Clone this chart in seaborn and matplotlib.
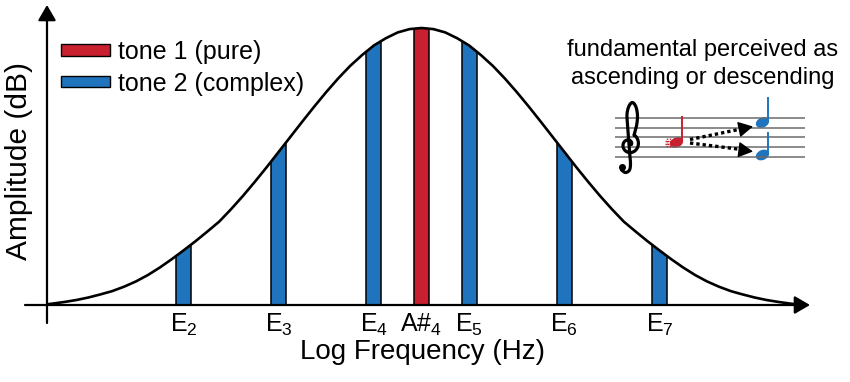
import matplotlib
matplotlib.use("Agg")
import matplotlib.pyplot as plt
from matplotlib.patches import Patch, Polygon, Ellipse, Circle
import seaborn as sns
import numpy as np

# ---------------- data ----------------
note_labels = ["E$_2$", "E$_3$", "E$_4$", "A#$_4$", "E$_5$", "E$_6$", "E$_7$"]
note_octave = [2.0, 3.0, 4.0, 4.5, 5.0, 6.0, 7.0]          # log frequency (octaves)
note_amp = [0.23, 0.60, 0.95, 1.0, 0.95, 0.60, 0.23]       # bar heights (clipped to envelope)
note_tone = ["tone 2 (complex)", "tone 2 (complex)", "tone 2 (complex)", "tone 1 (pure)",
             "tone 2 (complex)", "tone 2 (complex)", "tone 2 (complex)"]

# spectral envelope, eighth-octave steps
curve_octave = [0.5, 0.625, 0.75, 0.875, 1.0, 1.125, 1.25, 1.375, 1.5, 1.625, 1.75, 1.875,
                2.0, 2.125, 2.25, 2.375, 2.5, 2.625, 2.75, 2.875, 3.0, 3.125, 3.25, 3.375,
                3.5, 3.625, 3.75, 3.875, 4.0, 4.125, 4.25, 4.375, 4.5, 4.625, 4.75, 4.875,
                5.0, 5.125, 5.25, 5.375, 5.5, 5.625, 5.75, 5.875, 6.0, 6.125, 6.25, 6.375,
                6.5, 6.625, 6.75, 6.875, 7.0, 7.125, 7.25, 7.375, 7.5, 7.625, 7.75, 7.875,
                8.0, 8.125, 8.25, 8.375, 8.5]
curve_amp = [0.0, 0.005, 0.011, 0.018, 0.027, 0.038, 0.050, 0.066, 0.085, 0.108, 0.135,
             0.165, 0.197, 0.230, 0.265, 0.301, 0.346, 0.394, 0.445, 0.498, 0.553, 0.608,
             0.663, 0.717, 0.769, 0.818, 0.863, 0.902, 0.937, 0.963, 0.984, 0.996, 1.0,
             0.996, 0.984, 0.963, 0.937, 0.902, 0.863, 0.818, 0.769, 0.717, 0.663, 0.608,
             0.553, 0.498, 0.445, 0.394, 0.346, 0.301, 0.265, 0.230, 0.197, 0.165, 0.135,
             0.108, 0.085, 0.066, 0.050, 0.038, 0.027, 0.018, 0.011, 0.005, 0.0]

RED = "#c8202f"
BLUE = "#1f74bd"
palette = {"tone 1 (pure)": RED, "tone 2 (complex)": BLUE}

# ---------------- style ----------------
sns.set_style("white")
plt.rcParams["font.family"] = ["Liberation Sans", "DejaVu Sans"]
plt.rcParams["mathtext.fontset"] = "custom"
plt.rcParams["mathtext.rm"] = "Liberation Sans"
plt.rcParams["mathtext.it"] = "Liberation Sans:italic"
plt.rcParams["mathtext.bf"] = "Liberation Sans:bold"
for k in ("text.color", "axes.labelcolor", "xtick.color", "ytick.color"):
    plt.rcParams[k] = "black"

W, H = 850, 382
fig = plt.figure(figsize=(W / 100, H / 100), dpi=100)

# main axes: left at y-axis (x=47px), bottom at baseline (y=305px), top at arrow tip
ax_l, ax_r, ax_b, ax_t = 47, 810, 305, 5
ax = fig.add_axes([ax_l / W, (H - ax_b) / H, (ax_r - ax_l) / W, (ax_b - ax_t) / H])

px_per_oct = 95.2
e2_px = 183.5
x0 = 2.0 - (e2_px - ax_l) / px_per_oct
x1 = 2.0 + (ax_r - e2_px) / px_per_oct
y1 = (ax_b - ax_t) / 277.0

sns.barplot(x=note_octave, y=note_amp, hue=note_tone, palette=palette, native_scale=True,
            dodge=False, width=0.316, saturation=1, edgecolor="black", linewidth=1.1,
            errorbar=None, legend=False, ax=ax, zorder=2)
bars = list(ax.patches)

sns.lineplot(x=curve_octave, y=curve_amp, color="black", linewidth=1.9, ax=ax, zorder=3)

# clip bars to the area under the envelope
verts = list(zip(curve_octave, curve_amp)) + [(curve_octave[-1], 0), (curve_octave[0], 0)]
clip_poly = Polygon(verts, closed=True, transform=ax.transData)
for b in bars:
    b.set_clip_path(clip_poly)

ax.set_xlim(x0, x1)
ax.set_ylim(0, y1)
for s in ax.spines.values():
    s.set_visible(False)
ax.set_yticks([])
ax.set_xticks(note_octave)
ax.set_xticklabels(note_labels, fontsize=18)
ax.tick_params(axis="x", length=0, pad=5)
ax.set_xlabel("Log Frequency (Hz)", fontsize=20)
ax.xaxis.set_label_coords((422 - ax_l) / (ax_r - ax_l), -(339 - ax_b) / (ax_b - ax_t))
ax.set_ylabel("Amplitude (dB)", fontsize=21.5)
ax.yaxis.set_label_coords(-(ax_l - 33) / (ax_r - ax_l), (ax_b - 161) / (ax_b - ax_t))
ax.set_facecolor("none")

# axis arrows
arrow_kw = dict(arrowstyle="-|>,head_length=0.55,head_width=0.32", color="black", lw=1.6,
                mutation_scale=17, shrinkA=0, shrinkB=0)
ax.annotate("", xy=(1, 0), xytext=(-(ax_l - 25) / (ax_r - ax_l), 0), xycoords="axes fraction",
            arrowprops=arrow_kw, annotation_clip=False, zorder=5)
ax.annotate("", xy=(0, 1), xytext=(0, -(323 - ax_b) / (ax_b - ax_t)), xycoords="axes fraction",
            arrowprops=arrow_kw, annotation_clip=False, zorder=5)

# legend
handles = [Patch(facecolor=RED, edgecolor="black", linewidth=1.0, label="tone 1 (pure)"),
           Patch(facecolor=BLUE, edgecolor="black", linewidth=1.0, label="tone 2 (complex)")]
fig.legend(handles=handles, loc="upper left", bbox_to_anchor=(61 / W, 1 - 40 / H),
           frameon=False, borderpad=0, borderaxespad=0, handlelength=1.96,
           handleheight=0.32, handletextpad=0.32, labelspacing=0.3, fontsize=18)

# annotation text
fig.text(703 / W, 1 - 50 / H, "fundamental perceived as", ha="center", va="center", fontsize=17)
fig.text(703 / W, 1 - 78 / H, "ascending or descending", ha="center", va="center", fontsize=17)

# ---------------- staff inset (pixel coordinates) ----------------
ins = fig.add_axes([600 / W, (H - 180) / H, 240 / W, 90 / H])
ins.set_xlim(600, 840)
ins.set_ylim(180, 90)
ins.axis("off")
ins.hlines([118, 127.5, 137, 147, 156.5], 615, 805, color="#6b6b6b", lw=1.1)


def smooth_path(pts, n=12):
    """Catmull-Rom smoothing of a decorative outline."""
    p = np.asarray(pts, float)
    p = np.vstack([p[0], p, p[-1]])
    out = []
    for i in range(1, len(p) - 2):
        p0, p1, p2, p3 = p[i - 1], p[i], p[i + 1], p[i + 2]
        for t in np.linspace(0, 1, n, endpoint=False):
            t2, t3 = t * t, t * t * t
            out.append(0.5 * ((2 * p1) + (-p0 + p2) * t + (2 * p0 - 5 * p1 + 4 * p2 - p3) * t2
                              + (-p0 + 3 * p1 - 3 * p2 + p3) * t3))
    out.append(p[-2])
    return np.array(out)


# treble clef (no installed font has U+1D11E, so it is drawn as a shape)
th = np.linspace(0, 2 * np.pi + np.pi / 3, 40)
rr = 2.5 + 8.0 * th / th[-1]
spiral = np.column_stack([629 + rr * np.cos(th), 144.5 - 1.05 * rr * np.sin(th)])
upper = smooth_path([(634, 135.3), (636.5, 126), (637.5, 116), (636, 107), (632.5, 102.5),
                     (629, 106), (627, 114), (627.5, 124), (628.5, 138), (629.5, 152),
                     (630.5, 163), (629.5, 170), (625.5, 172.5), (621.5, 170)])
clef = np.vstack([spiral, upper])
ins.plot(clef[:, 0], clef[:, 1], color="black", lw=2.3, solid_capstyle="round",
         solid_joinstyle="round")
ins.add_patch(Circle((622.5, 167.5), 2.8, color="black"))

# red note + dotted sharp
ins.add_patch(Ellipse((676.5, 142.5), 12.5, 8.5, angle=-25, color=RED))
ins.plot([682, 682], [141, 116], color=RED, lw=1.4, solid_capstyle="butt")
for xv in (666.5, 669.5):
    ins.plot([xv, xv], [138, 147], color=RED, lw=1.0, ls=(0, (1, 0.8)))
for yv in (141, 144):
    ins.plot([665, 671.5], [yv, yv], color=RED, lw=1.0, ls=(0, (1, 0.8)))
# blue notes
for cy, top in ((122.5, 97), (155, 132)):
    ins.add_patch(Ellipse((762.5, cy), 12.5, 8.5, angle=-25, color=BLUE))
    ins.plot([767.8, 767.8], [cy - 1.5, top], color=BLUE, lw=1.4, solid_capstyle="butt")
# dotted arrows
dot_kw = dict(color="black", lw=2.4, ls=(0, (1, 0.9)))
ins.plot([690, 742], [139.5, 128.8], **dot_kw)
ins.plot([690, 742], [143, 149.6], **dot_kw)
head_kw = dict(arrowstyle="-|>,head_length=0.5,head_width=0.27", color="black", lw=1,
               mutation_scale=18, shrinkA=0, shrinkB=0)
ins.annotate("", xy=(753, 126.5), xytext=(740, 129.2), arrowprops=head_kw)
ins.annotate("", xy=(753, 151.5), xytext=(740, 149.8), arrowprops=head_kw)

fig.savefig("out.png", dpi=100)
